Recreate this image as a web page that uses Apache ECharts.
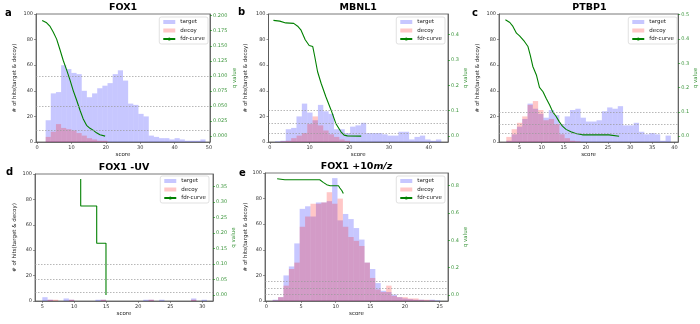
<!DOCTYPE html>
<html>
<head>
<meta charset="utf-8">
<script src="https://cdn.jsdelivr.net/npm/echarts@6/dist/echarts.min.js"></script>
<style>
  html, body { margin: 0; padding: 0; background: #fff; }
  #chart { width: 700px; height: 324px; }
</style>
</head>
<body>
<div id="chart"></div>
<script>
// q value cut-offs drawn as dotted lines
const qThresholds = [0.1, 0.05, 0.01];

// a: FOX1
const edgesA = [2.5, 4, 5.5, 7, 8.5, 10, 11.5, 13, 14.5, 16, 17.5, 19, 20.5, 22, 23.5, 25, 26.5, 28, 29.5, 31, 32.5, 34, 35.5, 37, 38.5, 40, 41.5, 43, 44.5, 46, 47.5, 49];
const targetA = [17, 38, 39, 60, 57, 54, 53, 40, 35, 38, 42, 44, 46, 53, 56, 48, 30, 29, 22, 20, 5, 4, 3, 3, 2, 3, 2, 1, 1, 1, 2];
const decoyA = [4, 8, 14, 11, 10, 9, 7, 5, 3, 2, 1, 1, 0, 0, 0, 0, 0, 0, 0, 0, 0, 0, 0, 0, 0, 0, 0, 0, 0, 0, 0];
const fdrScoreA = [1.5, 2.8, 3.8, 4.7, 5.7, 6.7, 7.6, 8.6, 9.6, 10.5, 11.5, 12.5, 13.4, 14.4, 15.4, 16.3, 17.3, 18.3, 19.8];
const fdrQA = [0.192, 0.188, 0.182, 0.173, 0.161, 0.143, 0.126, 0.110, 0.093, 0.076, 0.060, 0.043, 0.029, 0.018, 0.013, 0.010, 0.0055, 0.0022, 0.0];

// b: MBNL1
const edgesB = [1.3, 2.65, 4, 5.35, 6.7, 8.05, 9.4, 10.75, 12.1, 13.45, 14.8, 16.15, 17.5, 18.85, 20.2, 21.55, 22.9, 24.25, 25.6, 26.95, 28.3, 29.65, 31, 32.35, 33.7, 35.05, 36.4, 37.75, 39.1, 40.45, 41.8, 43.15];
const targetB = [0.5, 1, 10, 11, 20, 30, 23, 17, 29, 24, 22, 10, 10, 7, 12, 13, 15, 7, 7, 7, 6, 5, 5, 8, 8, 2, 4, 5, 2, 1, 2];
const decoyB = [0, 0.5, 1, 3, 5, 7, 14, 20, 13, 9, 6, 4, 2, 1, 0, 0, 0, 0, 0, 0, 0, 0, 0, 0, 0, 0, 0, 0, 0, 0, 0];
const fdrScoreB = [0.9, 2.5, 4.0, 6.0, 7.0, 7.8, 8.9, 9.9, 10.8, 11.3, 12.0, 12.9, 14.1, 15.4, 16.6, 17.9, 18.7, 19.5, 23.0];
const fdrQB = [0.455, 0.452, 0.445, 0.443, 0.432, 0.418, 0.379, 0.356, 0.352, 0.313, 0.254, 0.208, 0.155, 0.103, 0.05, 0.017, 0.004, 0.001, 0.0];

// c: PTBP1
const edgesC = [2, 3.2, 4.4, 5.6, 6.8, 8, 9.2, 10.4, 11.6, 12.8, 14, 15.2, 16.4, 17.6, 18.8, 20, 21.2, 22.4, 23.6, 24.8, 26, 27.2, 28.4, 29.6, 30.8, 32, 33.2, 34.4, 35.6, 36.8, 38, 39.2];
const targetC = [1, 6, 12, 18, 30, 26, 22, 19, 25, 21, 14, 20, 25, 26, 19, 16, 16, 17, 24, 27, 26, 28, 13, 13, 15, 8, 6, 7, 6, 1, 5];
const decoyC = [4, 10, 15, 20, 29, 32, 25, 17, 18, 14, 6, 3, 1, 0.5, 0, 0, 0, 0, 0, 0, 0, 0, 0, 0, 0, 0, 0, 0, 0, 0, 0];
const fdrScoreC = [1.8, 2.8, 3.5, 4.3, 5.0, 6.1, 6.9, 7.4, 8.0, 8.8, 9.5, 10.3, 11.0, 11.8, 12.5, 13.2, 14.0, 14.7, 15.5, 16.6, 17.7, 19.2, 21.5, 25.2, 25.6, 27.5];
const fdrQC = [0.479, 0.468, 0.452, 0.424, 0.413, 0.39, 0.369, 0.335, 0.287, 0.252, 0.201, 0.183, 0.156, 0.128, 0.1, 0.083, 0.059, 0.041, 0.028, 0.018, 0.011, 0.0055, 0.0055, 0.0055, 0.0, 0.0];

// d: FOX1 -UV
const edgesD = [5, 5.83, 6.66, 7.49, 8.32, 9.15, 9.98, 10.81, 11.64, 12.47, 13.3, 14.13, 14.96, 15.79, 16.62, 17.45, 18.28, 19.11, 19.94, 20.77, 21.6, 22.43, 23.26, 24.09, 24.92, 25.75, 26.58, 27.41, 28.24, 29.07, 29.9, 30.73];
const targetD = [3, 1, 0, 0, 2, 1, 0, 0, 0, 0, 1, 1, 0, 0, 0, 0, 0, 0, 0, 1, 1, 0, 1, 0, 0, 0, 0, 0, 2, 0, 1];
const decoyD = [0, 1, 1, 0, 0, 1, 0, 0, 0, 0, 0, 1, 0, 0, 0, 0, 0, 0, 0, 0, 1, 0, 0, 0, 0, 0, 0, 0, 1, 0, 0];
const fdrScoreD = [11.0, 11.0, 13.5, 13.5, 14.95, 14.95];
const fdrQD = [0.375, 0.2875, 0.2875, 0.167, 0.167, 0.0];

// e: FOX1 +10 m/z
const edgesE = [0.9, 1.68, 2.46, 3.24, 4.02, 4.8, 5.58, 6.36, 7.14, 7.92, 8.7, 9.48, 10.26, 11.04, 11.82, 12.6, 13.38, 14.16, 14.94, 15.72, 16.5, 17.28, 18.06, 18.84, 19.62, 20.4, 21.18, 21.96, 22.74, 23.52, 24.3, 25.08];
const targetE = [1, 3, 20, 27, 45, 72, 74, 66, 77, 77, 78, 96, 63, 68, 64, 57, 48, 30, 25, 14, 8, 7, 5, 3, 2, 1.5, 1, 1, 0.5, 1, 0.5];
const decoyE = [0.5, 3, 12, 25, 30, 58, 66, 76, 76, 77, 85, 76, 80, 58, 50, 47, 43, 30, 18, 9, 7, 12, 4, 3, 3, 2, 2, 1, 1, 0.5, 0];
const fdrScoreE = [1.55, 2.66, 7.7, 8.2, 8.7, 9.2, 10.4, 10.6, 10.9, 11.1];
const fdrQE = [0.848, 0.841, 0.841, 0.822, 0.805, 0.797, 0.797, 0.781, 0.761, 0.74];

// tick labels
const xTicksA = [0, 10, 20, 30, 40, 50];
const xTicksB = [0, 10, 20, 30, 40];
const xTicksC = [5, 10, 15, 20, 25, 30, 35, 40];
const xTicksD = [5, 10, 15, 20, 25, 30];
const xTicksE = [0, 5, 10, 15, 20, 25];
const qTicksA = [0, 0.025, 0.05, 0.075, 0.1, 0.125, 0.15, 0.175, 0.2];
const qTicksB = [0, 0.1, 0.2, 0.3, 0.4];
const qTicksC = [0, 0.1, 0.2, 0.3, 0.4, 0.5];
const qTicksD = [0, 0.05, 0.1, 0.15, 0.2, 0.25, 0.3, 0.35];
const qTicksE = [0, 0.2, 0.4, 0.6, 0.8];

const FONT = 'DejaVu Sans';
const TARGET_COLOR = 'rgba(0,0,255,0.22)';
const DECOY_COLOR = 'rgba(255,0,0,0.22)';
const GREEN = '#008000';
const AXIS_COLOR = '#555';

const panels = [
  {letter: 'a', title: 'FOX1', edges: edgesA, target: targetA, decoy: decoyA, fs: fdrScoreA, fq: fdrQA,
   left: 36, top: 14, width: 174, height: 128, xMin: -0.3, xMax: 50.3, xTicks: xTicksA,
   qMin: -0.0097, qMax: 0.2027, qTicks: qTicksA, qDigits: 3, leftGap: 18, rightGap: 20,
   legendRight: 492, legendTop: 17, letterX: 5, letterTop: 8},
  {letter: 'b', title: 'MBNL1', edges: edgesB, target: targetB, decoy: decoyB, fs: fdrScoreB, fq: fdrQB,
   left: 268.5, top: 14, width: 179.5, height: 128, xMin: -0.34, xMax: 44.84, xTicks: xTicksB,
   qMin: -0.023, qMax: 0.48, qTicks: qTicksB, qDigits: 1, leftGap: 20, rightGap: 14,
   legendRight: 255, legendTop: 17, letterX: 238, letterTop: 7},
  {letter: 'c', title: 'PTBP1', edges: edgesC, target: targetC, decoy: decoyC, fs: fdrScoreC, fq: fdrQC,
   left: 499, top: 14, width: 181, height: 128, xMin: 0.35, xMax: 40.85, xTicks: xTicksC,
   qMin: -0.024, qMax: 0.503, qTicks: qTicksC, qDigits: 1, leftGap: 18, rightGap: 11,
   legendRight: 23, legendTop: 17, letterX: 472, letterTop: 8},
  {letter: 'd', title: 'FOX1 -UV', edges: edgesD, target: targetD, decoy: decoyD, fs: fdrScoreD, fq: fdrQD,
   left: 35, top: 174, width: 178, height: 127, xMin: 3.86, xMax: 31.67, xTicks: xTicksD,
   qMin: -0.0195, qMax: 0.391, qTicks: qTicksD, qDigits: 2, leftGap: 17, rightGap: 17,
   legendRight: 491, legendTop: 176, letterX: 6, letterTop: 167},
  {letter: 'e', title: 'FOX1 +10{it|m/z}', edges: edgesE, target: targetE, decoy: decoyE, fs: fdrScoreE, fq: fdrQE,
   left: 265, top: 173, width: 183, height: 128, xMin: -0.2, xMax: 26.2, xTicks: xTicksE,
   qMin: -0.0425, qMax: 0.89, qTicks: qTicksE, qDigits: 1, leftGap: 16, rightGap: 14,
   legendRight: 255, legendTop: 176, letterX: 239, letterTop: 168}
];

function renderBin(params, api) {
  const lo = api.coord([api.value(0), 0]);
  const hi = api.coord([api.value(1), api.value(2)]);
  return {
    type: 'rect',
    shape: {x: lo[0], y: hi[1], width: hi[0] - lo[0], height: lo[1] - hi[1]},
    style: api.style()
  };
}

function toBins(edges, counts) {
  return counts.map((c, i) => [edges[i], edges[i + 1], c]);
}

const option = {
  animation: false,
  backgroundColor: '#fff',
  textStyle: {fontFamily: FONT},
  title: [],
  legend: [],
  grid: [],
  xAxis: [],
  yAxis: [],
  series: []
};

panels.forEach((p, i) => {
  option.grid.push({left: p.left, top: p.top, width: p.width, height: p.height,
    show: true, borderColor: AXIS_COLOR, borderWidth: 0.8, backgroundColor: 'transparent'});

  option.title.push({
    text: p.title, left: p.left + p.width / 2, top: p.top - 11, textAlign: 'center', padding: 0,
    textStyle: {fontSize: 9.5, fontWeight: 'bold', color: '#000', fontFamily: FONT,
      rich: {it: {fontSize: 9.5, fontWeight: 'bold', fontStyle: 'italic', color: '#000', fontFamily: FONT}}}
  });
  option.title.push({
    text: p.letter, left: p.letterX, top: p.letterTop, padding: 0,
    textStyle: {fontSize: 10, fontWeight: 'bold', color: '#000', fontFamily: FONT}
  });

  option.legend.push({
    orient: 'vertical', right: p.legendRight, top: p.legendTop,
    itemWidth: 12, itemHeight: 4, itemGap: 2.5, padding: [2, 3, 2, 3],
    borderColor: '#ccc', borderWidth: 0.6, borderRadius: 2, backgroundColor: 'rgba(255,255,255,0.8)',
    selectedMode: false,
    textStyle: {fontSize: 5.5, color: '#222', fontFamily: FONT},
    data: [{name: 'target', icon: 'rect'}, {name: 'decoy', icon: 'rect'}, {name: 'fdr-curve'}]
  });

  option.xAxis.push({
    gridIndex: i, type: 'value', min: p.xMin, max: p.xMax,
    name: 'score', nameLocation: 'middle', nameGap: 10,
    nameTextStyle: {fontSize: 5.5, color: '#222', fontFamily: FONT},
    axisLine: {onZero: false, lineStyle: {color: AXIS_COLOR, width: 0.8}},
    axisTick: {customValues: p.xTicks, length: 2, lineStyle: {color: AXIS_COLOR, width: 0.6}},
    axisLabel: {customValues: p.xTicks, fontSize: 5, color: '#333', margin: 3, fontFamily: FONT},
    splitLine: {show: false}
  });

  option.yAxis.push({
    gridIndex: i, type: 'value', min: 0, max: 100, interval: 20, position: 'left',
    name: '# of hits(target & decoy)', nameLocation: 'middle', nameRotate: 90, nameGap: p.leftGap,
    nameTextStyle: {fontSize: 5.5, color: '#222', fontFamily: FONT},
    axisLine: {show: true, onZero: false, lineStyle: {color: AXIS_COLOR, width: 0.8}},
    axisTick: {show: true, length: 2, lineStyle: {color: AXIS_COLOR, width: 0.6}},
    axisLabel: {fontSize: 5, color: '#333', margin: 3, fontFamily: FONT},
    splitLine: {show: false}
  });
  option.yAxis.push({
    gridIndex: i, type: 'value', min: p.qMin, max: p.qMax, position: 'right',
    name: 'q value', nameLocation: 'middle', nameRotate: 90, nameGap: p.rightGap,
    nameTextStyle: {fontSize: 5.5, color: '#3c963c', fontFamily: FONT},
    axisLine: {show: true, onZero: false, lineStyle: {color: AXIS_COLOR, width: 0.8}},
    axisTick: {show: true, customValues: p.qTicks, length: 2, lineStyle: {color: GREEN, width: 0.6}},
    axisLabel: {customValues: p.qTicks, fontSize: 5, color: '#3c963c', margin: 3, fontFamily: FONT,
      formatter: v => v.toFixed(p.qDigits)},
    splitLine: {show: false}
  });

  option.series.push({
    name: 'target', type: 'custom', xAxisIndex: i, yAxisIndex: 2 * i,
    renderItem: renderBin, encode: {x: [0, 1], y: 2},
    itemStyle: {color: TARGET_COLOR}, data: toBins(p.edges, p.target), z: 1
  });
  option.series.push({
    name: 'decoy', type: 'custom', xAxisIndex: i, yAxisIndex: 2 * i,
    renderItem: renderBin, encode: {x: [0, 1], y: 2},
    itemStyle: {color: DECOY_COLOR}, data: toBins(p.edges, p.decoy), z: 2
  });
  option.series.push({
    name: 'fdr-curve', type: 'line', xAxisIndex: i, yAxisIndex: 2 * i + 1,
    symbol: 'none', lineStyle: {color: GREEN, width: 1.1}, itemStyle: {color: GREEN},
    data: p.fs.map((s, k) => [s, p.fq[k]]), z: 3,
    markLine: {
      silent: true, symbol: 'none', label: {show: false},
      lineStyle: {color: '#999', type: [1.5, 1.5], width: 0.7},
      data: qThresholds.map(q => ({yAxis: q}))
    }
  });
});

const chart = echarts.init(document.getElementById('chart'));
chart.setOption(option);
</script>
</body>
</html>
